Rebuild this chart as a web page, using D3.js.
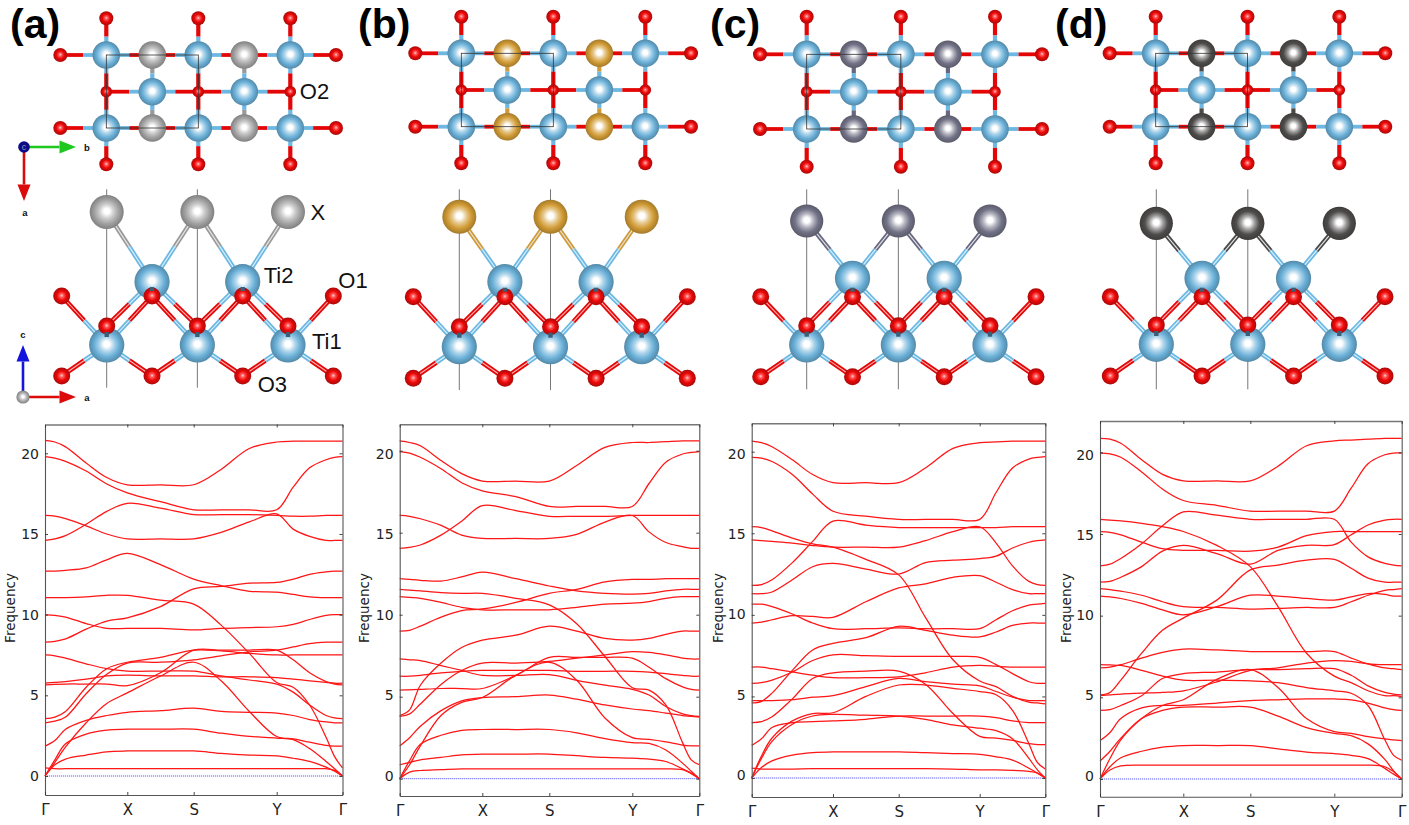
<!DOCTYPE html>
<html>
<head>
<meta charset="utf-8">
<title>Phonon bands and structures</title>
<script src="https://cdn.jsdelivr.net/npm/d3@7/dist/d3.min.js"></script>
<style>
html,body{margin:0;padding:0;background:#fff;overflow:hidden}
svg{display:block}
</style>
</head>
<body>
<svg id="chart" width="1409" height="825" viewBox="0 0 1409 825"></svg>
<script>
// ---------- chart data ----------
const panelLabels = ["(a)", "(b)", "(c)", "(d)"];
const pathLabels = ["Γ", "X", "S", "Y", "Γ"];
const pathTicks = [0, 1, 2, 3, 4];
const freqTicks = [0, 5, 10, 15, 20];
const kPath = [0, .12, .25, .5, .75, 1, 1.5, 2, 2.33, 2.67, 3, 3.25, 3.5, 3.75, 3.88, 4];

const bandsA = [
 [20.8,20.7,20.4,19.4,18.5,18.05,18.05,18.05,19.0,20.3,20.7,20.75,20.75,20.75,20.75,20.75],
 [19.8,19.7,19.5,18.9,18.1,17.55,17.0,16.5,16.5,16.5,16.5,17.9,19.1,19.6,19.75,19.8],
 [14.6,14.7,14.9,15.6,16.4,16.9,16.6,16.2,16.2,16.2,16.15,16.1,16.1,16.15,16.15,16.15],
 [16.15,16.1,15.95,15.5,15.0,14.7,14.7,14.7,15.1,15.75,16.25,15.3,14.85,14.6,14.6,14.6],
 [12.7,12.7,12.75,12.9,13.4,13.8,13.1,12.2,11.8,11.45,11.4,11.25,11.1,11.05,11.05,11.05],
 [11.05,11.05,11.05,11.1,11.2,11.2,10.9,10.65,9.35,7.6,5.8,5.5,4.4,2.4,1.2,0.5],
 [8.3,8.35,8.5,9.1,9.6,9.8,10.5,11.6,11.75,11.95,12.0,12.2,12.5,12.65,12.7,12.7],
 [10,9.95,9.85,9.45,9.15,9.15,9.15,9.05,9.15,9.2,9.25,9.4,9.7,9.95,10,10],
 [7.5,7.45,7.3,6.95,6.65,6.5,6.5,6.5,6.2,5.95,5.7,5.2,4.4,3.75,3.6,3.55],
 [5.75,5.8,5.85,6.0,6.2,6.25,6.2,6.2,6.15,6.15,6.1,6.0,5.9,5.8,5.75,5.75],
 [5.65,5.68,5.7,5.7,5.7,5.6,6.4,7.8,7.8,7.8,7.8,7.2,6.4,5.85,5.7,5.65],
 [3.55,3.65,4.0,5.5,6.65,7.05,7.35,7.8,7.75,7.6,7.5,7.5,7.5,7.5,7.5,7.5],
 [3.3,3.4,3.65,5.1,6.3,7.0,7.05,7.2,7.45,7.7,7.8,8.0,8.2,8.3,8.3,8.3],
 [1.85,2.2,2.9,3.45,3.75,3.95,4.05,4.2,4.0,3.95,3.9,3.75,3.5,3.35,3.3,3.3],
 [0,0.85,1.8,3.3,4.5,5.15,6.2,7.05,5.9,4.0,2.45,2.3,2.1,1.9,1.85,1.85],
 [0,1.0,2.0,2.6,2.85,2.9,2.9,2.9,2.65,2.45,2.35,2.25,1.7,0.9,0.45,0],
 [0,0.7,1.05,1.3,1.5,1.55,1.55,1.55,1.4,1.3,1.25,1.1,0.9,0.55,0.3,0],
 [0.5,0.45,0.45,0.45,0.45,0.45,0.45,0.45,0.45,0.45,0.45,0.45,0.45,0.45,0.35,0]
];
const bandsB = [
 [20.6,20.5,20.3,19.4,18.6,18.15,18.15,18.15,19.1,20.2,20.5,20.5,20.55,20.6,20.6,20.6],
 [19.95,19.85,19.6,18.9,18.05,17.55,17.2,16.6,16.6,16.6,16.6,18.0,19.3,19.8,19.9,19.95],
 [14.05,14.1,14.25,14.85,15.7,16.65,16.35,16.0,16.0,16.0,16.05,16.05,16.05,16.05,16.05,16.05],
 [16.05,16.0,15.85,15.45,14.85,14.65,14.65,14.65,14.9,15.65,16.05,15.05,14.4,14.15,14.05,14.05],
 [12.2,12.15,12.1,12.05,12.3,12.6,12.2,11.75,11.45,11.3,11.25,11.3,11.45,11.55,11.55,11.55],
 [11.55,11.5,11.45,11.35,11.3,11.3,11.0,10.6,9.45,7.45,5.55,5.4,4.5,2.2,1.15,0.85],
 [9.0,9.05,9.3,9.85,10.25,10.35,10.75,11.3,11.55,12.0,12.15,12.15,12.2,12.2,12.2,12.2],
 [11.1,11.05,11.0,10.75,10.45,10.3,10.3,10.3,10.45,10.65,10.7,10.8,11.0,11.1,11.1,11.1],
 [3.85,4.2,5.7,7.05,8.0,8.45,8.75,9.3,9.0,8.55,8.45,8.55,8.8,9.0,9.0,9.0],
 [7.3,7.25,7.2,6.9,6.6,6.3,6.3,6.35,6.0,5.7,5.45,5.1,4.4,3.95,3.85,3.8],
 [6.25,6.25,6.3,6.45,6.55,6.6,6.6,6.6,6.55,6.55,6.55,6.5,6.4,6.3,6.25,6.25],
 [5.4,5.42,5.45,5.5,5.5,5.5,6.3,7.4,7.4,7.4,7.35,6.8,6.1,5.6,5.45,5.4],
 [3.8,3.95,4.55,5.75,6.6,7.05,7.05,7.15,7.35,7.55,7.75,7.7,7.55,7.35,7.3,7.3],
 [2.0,2.5,3.2,4.15,4.75,4.95,5.0,5.1,4.85,4.5,4.25,4.15,4.0,3.85,3.8,3.75],
 [0,0.85,2.0,3.85,4.65,4.95,6.3,7.1,6.0,3.7,2.5,2.4,2.25,2.05,2.0,2.0],
 [0,1.1,2.1,2.65,2.95,3.0,3.0,3.0,2.8,2.45,2.2,2.15,1.75,0.95,0.45,0],
 [0.85,1.0,1.15,1.3,1.45,1.5,1.5,1.5,1.4,1.3,1.25,1.2,1.05,0.6,0.3,0],
 [0,0.4,0.5,0.55,0.6,0.6,0.6,0.6,0.6,0.6,0.6,0.6,0.6,0.55,0.35,0]
];
const bandsC = [
 [20.65,20.55,20.3,19.5,18.6,18.1,18.1,18.1,19.0,20.2,20.55,20.6,20.65,20.65,20.65,20.65],
 [19.65,19.6,19.4,18.6,17.4,16.35,16.05,15.85,15.85,15.85,15.85,17.5,19.0,19.55,19.65,19.7],
 [11.8,11.85,12.15,13.2,14.5,15.75,15.5,15.35,15.35,15.35,15.35,15.35,15.4,15.4,15.4,15.4],
 [15.4,15.35,15.15,14.7,14.35,14.15,13.4,12.45,9.85,7.25,5.95,5.6,5.0,4.65,4.6,4.55],
 [14.6,14.55,14.5,14.4,14.25,14.15,14.15,14.15,14.55,15.1,15.4,14.4,13.0,12.05,11.85,11.8],
 [11.3,11.3,11.4,12.15,12.95,13.15,12.8,12.5,13.2,13.35,13.45,13.6,14.1,14.45,14.55,14.6],
 [9.5,9.55,9.7,9.95,9.9,9.85,10.8,11.65,11.9,12.3,12.4,12.0,11.55,11.3,11.3,11.3],
 [10.65,10.65,10.5,10.05,9.5,9.15,9.15,9.2,9.15,9.15,9.15,9.7,10.25,10.6,10.65,10.7],
 [4.6,4.7,5.2,6.6,7.85,8.25,8.6,9.3,9.05,8.75,8.65,8.95,9.35,9.5,9.5,9.5],
 [5.8,5.85,6.0,6.5,7.2,7.55,7.5,7.45,7.45,7.45,7.4,6.95,6.4,5.9,5.8,5.8],
 [6.8,6.8,6.7,6.5,6.3,6.15,6.15,6.2,6.45,6.8,6.9,6.85,6.8,6.8,6.8,6.8],
 [3.4,3.45,3.75,4.85,6.1,6.45,6.55,6.55,5.75,3.95,2.55,2.45,2.3,2.1,2.05,2.05],
 [4.75,4.75,4.75,4.8,4.95,5.05,5.6,6.1,5.9,5.75,5.65,5.3,4.95,4.75,4.75,4.75],
 [2.0,2.4,3.1,3.4,3.45,3.5,3.6,3.8,3.8,3.8,3.8,3.7,3.5,3.4,3.4,3.4],
 [0,1.35,2.45,3.5,3.95,4.0,5.0,5.7,5.7,5.5,5.3,5.1,4.15,2.1,0.95,0.55],
 [0,1.2,2.25,3.3,3.8,3.9,3.85,3.8,3.6,3.25,3.05,2.9,2.4,1.2,0.5,0],
 [0,0.65,1.05,1.4,1.55,1.6,1.6,1.6,1.55,1.5,1.45,1.3,1.1,0.6,0.3,0],
 [0.6,0.55,0.55,0.55,0.57,0.57,0.57,0.57,0.57,0.55,0.5,0.5,0.47,0.4,0.3,0]
];
const bandsD = [
 [20.85,20.8,20.55,19.55,18.65,18.25,18.25,18.25,19.15,20.4,20.7,20.75,20.8,20.85,20.85,20.85],
 [19.95,19.9,19.7,18.8,17.75,17.05,16.75,16.4,16.4,16.4,16.4,17.8,19.3,19.85,19.95,19.95],
 [13.05,13.15,13.5,14.4,15.5,16.35,16.15,15.9,15.9,15.9,15.9,14.5,13.6,13.2,13.1,13.05],
 [15.9,15.85,15.8,15.65,15.45,15.15,14.3,13.0,10.55,7.7,6.3,5.9,5.4,5.1,5.1,5.05],
 [15.15,15.1,14.95,14.5,14.1,14.0,14.0,13.95,14.2,14.9,15.15,15.15,15.15,15.15,15.15,15.15],
 [12.05,12.1,12.35,13.0,13.95,14.3,13.8,13.15,14.0,14.3,14.35,14.95,15.55,15.85,15.9,15.9],
 [5.15,5.3,6.05,7.7,9.1,9.85,10.95,12.8,13.1,13.4,13.45,12.9,12.3,12.05,12.05,12.05],
 [11.65,11.6,11.5,11.25,10.85,10.55,10.5,10.4,10.45,10.5,10.5,10.85,11.25,11.55,11.6,11.65],
 [11.2,11.15,11.05,10.75,10.35,10.05,10.55,11.25,11.2,11.05,10.95,11.15,11.35,11.3,11.2,11.2],
 [6.8,6.85,7.0,7.4,7.75,7.95,7.9,7.8,7.8,7.8,7.8,7.4,7.05,6.8,6.75,6.7],
 [7.0,6.98,6.95,6.65,6.3,6.05,6.05,6.0,5.9,5.6,5.4,5.25,4.5,2.4,1.45,1.15],
 [5.1,5.15,5.2,5.25,5.3,5.4,5.95,6.65,6.8,7.1,7.25,7.2,7.05,7.0,7.0,7.0],
 [4.2,4.25,4.5,5.1,6.15,6.45,6.55,6.7,6.7,6.75,6.75,6.35,5.7,5.3,5.2,5.15],
 [2.35,2.85,3.7,4.35,4.5,4.5,4.65,4.8,4.85,4.9,4.9,4.85,4.65,4.35,4.25,4.2],
 [1.1,1.7,2.5,3.7,4.2,4.4,4.4,4.4,3.85,3.15,2.8,2.65,2.15,1.2,0.5,0],
 [0,1.25,2.4,3.7,4.5,4.85,6.1,6.7,5.6,3.7,2.9,2.8,2.6,2.45,2.4,2.35],
 [0,0.75,1.3,1.7,1.95,2.05,2.05,2.05,1.85,1.65,1.55,1.45,1.25,0.65,0.3,0],
 [0,0.55,0.8,0.85,0.85,0.85,0.85,0.85,0.85,0.85,0.85,0.85,0.85,0.75,0.45,0]
];
const allBands = [bandsA, bandsB, bandsC, bandsD];

// ---------- crystal structure: logical grid sites ----------
const topTi = [[0,0],[2,0],[4,0],[0,2],[2,2],[4,2],[1,1],[3,1]];
const topX  = [[1,0],[3,0],[1,2],[3,2]];
const topO  = [[0,-1],[2,-1],[4,-1],[-1,0],[5,0],[0,1],[2,1],[4,1],[-1,2],[5,2],[0,3],[2,3],[4,3]];
const topChains = [
 [[-1,0,"O"],[0,0,"Ti"],[1,0,"O"],[2,0,"Ti"],[3,0,"O"],[4,0,"Ti"],[5,0,"O"]],
 [[-1,2,"O"],[0,2,"Ti"],[1,2,"O"],[2,2,"Ti"],[3,2,"O"],[4,2,"Ti"],[5,2,"O"]],
 [[0,1,"O"],[1,1,"Ti"],[2,1,"O"],[3,1,"Ti"],[4,1,"O"]],
 [[0,-1,"O"],[0,0,"Ti"],[0,1,"O"],[0,2,"Ti"],[0,3,"O"]],
 [[2,-1,"O"],[2,0,"Ti"],[2,1,"O"],[2,2,"Ti"],[2,3,"O"]],
 [[4,-1,"O"],[4,0,"Ti"],[4,1,"O"],[4,2,"Ti"],[4,3,"O"]],
 [[1,0,"X"],[1,1,"Ti"],[1,2,"X"]],
 [[3,0,"X"],[3,1,"Ti"],[3,2,"X"]]
];
const sideSites = [
 [0,"ti1","Ti"],[2,"ti1","Ti"],[4,"ti1","Ti"],
 [1,"ti2","Ti"],[3,"ti2","Ti"],
 [-1,"ol","O"],[1,"ol","O"],[3,"ol","O"],[5,"ol","O"],
 [-1,"ou","O"],[5,"ou","O"],
 [1,"ou","O"],[3,"ou","O"],
 [0,"om","O"],[2,"om","O"],[4,"om","O"],
 [0,"x","X"],[2,"x","X"],[4,"x","X"]
];
const sideBonds = [
 [0,"x","X",1,"ti2","Ti"],[2,"x","X",1,"ti2","Ti"],[2,"x","X",3,"ti2","Ti"],[4,"x","X",3,"ti2","Ti"],
 [0,"om","O",1,"ti2","Ti"],[2,"om","O",1,"ti2","Ti"],[2,"om","O",3,"ti2","Ti"],[4,"om","O",3,"ti2","Ti"],
 [-1,"ou","O",0,"ti1","Ti"],[1,"ou","O",0,"ti1","Ti"],[1,"ou","O",2,"ti1","Ti"],[3,"ou","O",2,"ti1","Ti"],[3,"ou","O",4,"ti1","Ti"],[5,"ou","O",4,"ti1","Ti"],
 [-1,"ol","O",0,"ti1","Ti"],[1,"ol","O",0,"ti1","Ti"],[1,"ol","O",2,"ti1","Ti"],[3,"ol","O",2,"ti1","Ti"],[3,"ol","O",4,"ti1","Ti"],[5,"ol","O",4,"ti1","Ti"]
];
const zOrder = ["x","ti2","ou","om","ti1","ol"];
const xColours = ["#a4a4a4", "#d29c36", "#737388", "#4f4c4c"];
const xStick = ["#9a9a9a", "#cf9a3a", "#666680", "#4a4848"];
const siteNames = [
 {t:"O2", k:"top", u:4, v:1, dx:9.5, dy:0},
 {t:"X",  k:"side", u:4, z:"x", dx:22.5, dy:0},
 {t:"Ti2",k:"side", u:3, z:"ti2", dx:21, dy:-6},
 {t:"O1", k:"side", u:5, z:"ou", dx:5, dy:-16},
 {t:"Ti1",k:"side", u:4, z:"ti1", dx:24, dy:-4},
 {t:"O3", k:"side", u:3, z:"ol", dx:15, dy:8}
];

// ---------- layout ----------
const layouts = [
 {lbl:10,  topX:[60.3,106.3,290.3,336], topY:[18.3,55,91.7,128,164.3], sideX:[61.7,106.7,288,333.3], sideZ:[212,281.7,296,326,345,376], vline:[189.3,387.7],
  frame:[45,127.3,193.7,276.7,342.5], top:424.5, bottom:795, y0:776, y20:453.3, lab0:775, lab20:453.3, fx:10},
 {lbl:358, topX:[415.3,461.3,645.3,691], topY:[16.7,53.3,90,126.7,163.3], sideX:[413.3,459.3,641.7,687.3], sideZ:[216.7,281.7,296.7,326.7,346.7,378.3], vline:[189.3,390],
  frame:[399.7,482.3,549.3,632.3,699.3], top:424.3, bottom:796, y0:778.7, y20:450.7, lab0:775, lab20:453.3, fx:364},
 {lbl:710, topX:[760,806.7,995,1042], topY:[16.7,54.3,91.7,129,166.7], sideX:[760.7,806.7,990,1036], sideZ:[221,278.3,296.7,325.7,345,376.7], vline:[189.3,389.3],
  frame:[751.7,833,898.7,979.7,1045.3], top:423.3, bottom:797, y0:778, y20:451.7, lab0:774.5, lab20:453.3, fx:718},
 {lbl:1055,topX:[1109.7,1155.7,1339.3,1385.3], topY:[16.7,53.3,90,126.7,163.3], sideX:[1110.3,1156.3,1339.3,1385], sideZ:[223.3,278.3,296.7,325,344.3,376], vline:[189.3,389.3],
  frame:[1100,1183.3,1250.3,1334.3,1401.7], top:421, bottom:796.7, y0:779, y20:452.3, lab0:775, lab20:454, fx:1066}
];

const svg = d3.select("#chart");
svg.append("rect").attr("width",1409).attr("height",825).attr("fill","#fff");
const defs = svg.append("defs");
defs.append("filter").attr("id","soft").attr("x","-2%").attr("y","-2%").attr("width","104%").attr("height","104%")
  .append("feGaussianBlur").attr("stdDeviation",0.35);

function sphereGradient(id, base){
  const c = d3.color(base);
  const g = defs.append("radialGradient").attr("id",id)
    .attr("cx","50%").attr("cy","50%").attr("r","50%").attr("fx","50%").attr("fy","47%");
  g.append("stop").attr("offset","0%").attr("stop-color","#fff");
  g.append("stop").attr("offset","16%").attr("stop-color","#fff");
  g.append("stop").attr("offset","42%").attr("stop-color",d3.interpolateRgb(base,"#fff")(.45));
  g.append("stop").attr("offset","70%").attr("stop-color",base);
  g.append("stop").attr("offset","100%").attr("stop-color",c.darker(.7));
}
function oxygenGradient(id){
  const g = defs.append("radialGradient").attr("id",id)
    .attr("cx","50%").attr("cy","50%").attr("r","50%").attr("fx","50%").attr("fy","47%");
  g.append("stop").attr("offset","0%").attr("stop-color","#ffd0d0");
  g.append("stop").attr("offset","22%").attr("stop-color","#ff5a5a");
  g.append("stop").attr("offset","55%").attr("stop-color","#ee0808");
  g.append("stop").attr("offset","100%").attr("stop-color","#a80a0a");
}
sphereGradient("gTi","#6ab0d8");
oxygenGradient("gO");
xColours.forEach((c,i)=>sphereGradient("gX"+i,c));

const stickColour = (kind,i)=> kind==="Ti" ? "#6db8e2" : kind==="O" ? "#e40606" : xStick[i];
const stickGlow = (kind)=> kind==="Ti" ? "#dff3ff" : kind==="O" ? "#ffb4b4" : "#e8e8e8";

function halfBond(g, x1,y1,x2,y2, kind, i, w, glow){
  g.append("line").attr("x1",x1).attr("y1",y1).attr("x2",x2).attr("y2",y2)
    .attr("stroke",stickColour(kind,i)).attr("stroke-width",w);
  if(glow) g.append("line").attr("x1",x1).attr("y1",y1).attr("x2",x2).attr("y2",y2)
    .attr("stroke",stickGlow(kind)).attr("stroke-width",1.1);
}

layouts.forEach((L,i)=>{
  const g = svg.append("g").attr("class","panel");
  g.append("text").text(panelLabels[i]).attr("x",L.lbl).attr("y",38)
    .attr("font-family","'Liberation Sans',Arial,sans-serif").attr("font-weight","bold")
    .attr("font-size",41).attr("fill","#000");

  // ----- top view
  const tx = d3.scaleLinear().domain([-1,0,4,5]).range(L.topX);
  const ty = d3.scaleLinear().domain([-1,0,1,2,3]).range(L.topY);
  const tb = g.append("g");
  topChains.forEach(chain=>{
    d3.pairs(chain).forEach(([a,b])=>{
      const ax=tx(a[0]),ay=ty(a[1]),bx=tx(b[0]),by=ty(b[1]);
      const mx=(ax+bx)/2,my=(ay+by)/2;
      const w = ay===by ? 3.8 : 4.2;
      halfBond(tb,ax,ay,mx,my,a[2],i,w,false);
      halfBond(tb,mx,my,bx,by,b[2],i,w,false);
    });
  });
  const ta = g.append("g");
  ta.selectAll("circle.ti").data(topTi).join("circle").attr("class","ti")
    .attr("cx",d=>tx(d[0])).attr("cy",d=>ty(d[1])).attr("r",13.8).attr("fill","url(#gTi)");
  ta.selectAll("circle.o").data(topO).join("circle").attr("class","o")
    .attr("cx",d=>tx(d[0])).attr("cy",d=>ty(d[1])).attr("r",d=>d[1]===1?5.8:7).attr("fill","url(#gO)");
  ta.selectAll("circle.x").data(topX).join("circle").attr("class","x")
    .attr("cx",d=>tx(d[0])).attr("cy",d=>ty(d[1])).attr("r",13.8).attr("fill",`url(#gX${i})`);
  g.append("rect").attr("x",tx(0)).attr("y",ty(0)).attr("width",tx(2)-tx(0)).attr("height",ty(2)-ty(0))
    .attr("fill","none").attr("stroke","#333").attr("stroke-width",.8);

  // ----- side view
  const sx = d3.scaleLinear().domain([-1,0,4,5]).range(L.sideX);
  const sz = d3.scaleOrdinal().domain(zOrder).range(L.sideZ);
  [0,2].forEach(u=>g.append("line").attr("x1",sx(u)).attr("x2",sx(u))
    .attr("y1",L.vline[0]).attr("y2",L.vline[1]).attr("stroke","#777").attr("stroke-width",1));
  const sb = g.append("g");
  sideBonds.forEach(b=>{
    const ax=sx(b[0]),ay=sz(b[1]),bx=sx(b[3]),by=sz(b[4]);
    const mx=(ax+bx)/2,my=(ay+by)/2;
    halfBond(sb,ax,ay,mx,my,b[2],i,4.6,true);
    halfBond(sb,mx,my,bx,by,b[5],i,4.6,true);
  });
  const sa = g.append("g");
  const rad = {Ti:17.6,O:8.5,X:i<2?17:16.6};
  const fill = {Ti:"url(#gTi)",O:"url(#gO)",X:`url(#gX${i})`};
  sa.selectAll("circle").data(sideSites).join("circle")
    .attr("cx",d=>sx(d[0])).attr("cy",d=>sz(d[1])).attr("r",d=>rad[d[2]]).attr("fill",d=>fill[d[2]]);
  [[1,"ti2","ou"],[3,"ti2","ou"],[0,"om","ti1"],[2,"om","ti1"],[4,"om","ti1"]].forEach(s=>{
    const top = s[1]==="ti2" ? sz(s[2])-9 : sz(s[1])+6;
    const h = s[1]==="ti2" ? 4 : 5;
    g.append("rect").attr("x",sx(s[0])-2.2).attr("y",top).attr("width",4.4).attr("height",h).attr("fill","#3a5f78");
  });

  if(i===0){
    siteNames.forEach(n=>{
      const x = n.k==="top" ? tx(n.u) : sx(n.u);
      const y = n.k==="top" ? ty(n.v) : sz(n.z);
      g.append("text").text(n.t).attr("x",x+n.dx).attr("y",y+n.dy)
        .attr("dominant-baseline","central")
        .attr("font-family","'Liberation Sans',Arial,sans-serif").attr("font-size",22).attr("fill","#111");
    });
  }

  // ----- phonon dispersion
  const x = d3.scaleLinear().domain(pathTicks).range(L.frame);
  const y = d3.scaleLinear().domain([0,20]).range([L.y0,L.y20]);
  const labelY = d3.scaleLinear().domain([0,20]).range([L.lab0,L.lab20]);
  const domainY = [y.invert(L.bottom), y.invert(L.top)];
  y.domain(domainY).range([L.bottom,L.top]);
  const pg = g.append("g").attr("class","bands");
  const font = "'DejaVu Sans',sans-serif";
  const line = d3.line().x((d,j)=>x(kPath[j])).y(d=>y(d)).curve(d3.curveCatmullRom.alpha(0.5));

  pg.append("line").attr("x1",x(0)).attr("x2",x(4)).attr("y1",y(0)).attr("y2",y(0))
    .attr("stroke","#5a5aff").attr("stroke-width",1).attr("stroke-dasharray","1.2 0.8");
  pg.append("g").attr("filter","url(#soft)").selectAll("path.band").data(allBands[i]).join("path").attr("class","band")
    .attr("d",line).attr("fill","none").attr("stroke","#ff1414").attr("stroke-width",1.25);

  const left = d3.axisLeft(y).tickValues(freqTicks).tickSize(-3).tickSizeOuter(0).tickPadding(6);
  const right = d3.axisRight(y).tickValues(freqTicks).tickSize(-3).tickSizeOuter(0).tickFormat("");
  const bottom = d3.axisBottom(x).tickValues(pathTicks).tickSize(-3).tickSizeOuter(0)
      .tickFormat((d,j)=>pathLabels[j]).tickPadding(9);
  const topAxis = d3.axisTop(x).tickValues(pathTicks).tickSize(-3).tickSizeOuter(0).tickFormat("");
  const ag = pg.append("g").attr("transform",`translate(${L.frame[0]},0)`).call(left);
  ag.selectAll("text").attr("y",d=>labelY(d)-y(d)).attr("dy",".36em");
  pg.append("g").attr("transform",`translate(${L.frame[4]},0)`).call(right);
  const bg = pg.append("g").attr("transform",`translate(0,${L.bottom})`).call(bottom);
  bg.selectAll("text").attr("y",9.5);
  const tg = pg.append("g").attr("transform",`translate(0,${L.top})`).call(topAxis);
  pg.selectAll(".domain").attr("stroke","#555").attr("stroke-width",1.1);
  tg.select(".domain").attr("stroke","#777").attr("stroke-width",1.6);
  pg.selectAll(".tick line").attr("stroke","#333").attr("stroke-width",.9);
  pg.selectAll("text").attr("font-family",font).attr("font-size",14).attr("fill","#222");
  bg.selectAll("text").attr("font-size",15);
  pg.append("text").text("Frequency").attr("text-anchor","middle")
    .attr("transform",`translate(${L.fx},608) rotate(-90)`).attr("dy",".36em")
    .attr("font-family",font).attr("font-size",13.5).attr("fill","#222");
});

// ----- orientation triads, first panel
const tri = svg.append("g").attr("class","triads");
function arrow(x1,y1,x2,y2,col){
  const L = Math.hypot(x2-x1,y2-y1), ux=(x2-x1)/L, uy=(y2-y1)/L, hl=16.5, hw=6.5;
  const bx=x2-ux*hl, by=y2-uy*hl;
  tri.append("line").attr("x1",x1).attr("y1",y1).attr("x2",bx).attr("y2",by).attr("stroke",col).attr("stroke-width",2.6);
  tri.append("path").attr("d",`M${x2},${y2}L${bx-uy*hw},${by+ux*hw}L${bx+uy*hw},${by-ux*hw}Z`).attr("fill",col);
}
function axLabel(t,x,y){
  tri.append("text").text(t).attr("x",x).attr("y",y).attr("text-anchor","middle").attr("dominant-baseline","central")
    .attr("font-family","'Liberation Sans',Arial,sans-serif").attr("font-weight","bold").attr("font-size",9.5).attr("fill","#111");
}
arrow(24,147,76,147,"#1ec81e");
arrow(24,147,24,201,"#dc0a0a");
tri.append("circle").attr("cx",24).attr("cy",147).attr("r",5.8).attr("fill","#0b0b8a");
tri.append("text").text("c").attr("x",24).attr("y",147).attr("text-anchor","middle").attr("dominant-baseline","central")
  .attr("font-family","'Liberation Sans',Arial,sans-serif").attr("font-size",9).attr("fill","#99a");
axLabel("b",87,147); axLabel("a",25,212);
arrow(23,397,23,345,"#1414dc");
arrow(23,397,76,397,"#dc0a0a");
tri.append("circle").attr("cx",23).attr("cy",397).attr("r",6.6).attr("fill","url(#gX0)");
axLabel("c",23,334); axLabel("a",87,397);
</script>
</body>
</html>
